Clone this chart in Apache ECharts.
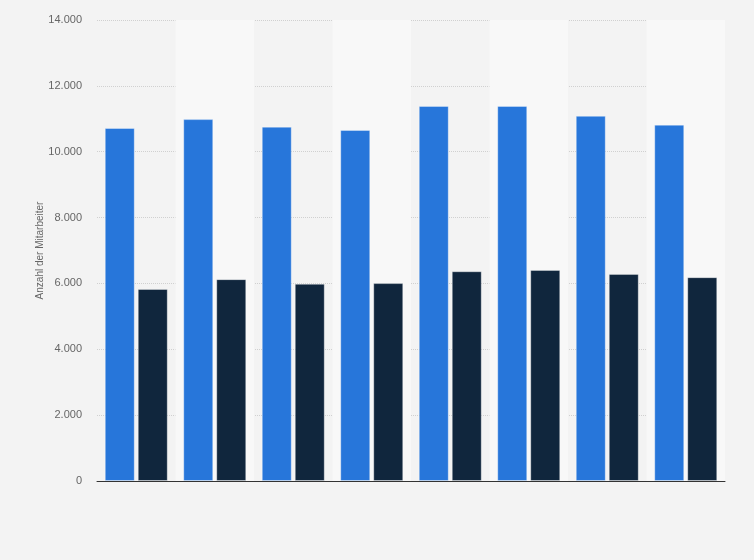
<!DOCTYPE html>
<html>
<head>
<meta charset="utf-8">
<script src="https://cdn.jsdelivr.net/npm/echarts@6/dist/echarts.min.js"></script>
<style>
  html, body { margin: 0; padding: 0; background: #f3f3f3; }
  #chart { width: 754px; height: 560px; }
</style>
</head>
<body>
<div id="chart"></div>
<script>
// Kategorien (keine Beschriftung im Original sichtbar)
let categories = ['1', '2', '3', '4', '5', '6', '7', '8']
// Werte
let seriesBlue = [10720, 10990, 10760, 10660, 11390, 11390, 11090, 10820]
let seriesDark = [5830, 6130, 5990, 6010, 6370, 6410, 6290, 6190]
let yTicks = { min: 0, max: 14000, interval: 2000 }

// Tausenderpunkt wie im Original
function formatDE(v) {
  return String(v).replace(/\B(?=(\d{3})+(?!\d))/g, '.')
}

var myChart = echarts.init(document.getElementById('chart'))
var option = {
  backgroundColor: '#f3f3f3',
  animation: false,
  grid: {
    left: 97,
    right: 29,
    top: 20,
    bottom: 79,
  },
  xAxis: {
    type: 'category',
    data: categories,
    axisLine: { lineStyle: { color: '#333', width: 1 } },
    axisTick: { show: false },
    axisLabel: { show: false },
    //交替背景
    splitArea: {
      show: true,
      areaStyle: { color: ['rgba(0,0,0,0)', '#f8f8f8'] },
    },
  },
  yAxis: {
    type: 'value',
    min: yTicks.min,
    max: yTicks.max,
    interval: yTicks.interval,
    name: 'Anzahl der Mitarbeiter',
    nameLocation: 'middle',
    nameGap: 52,
    nameMoveOverlap: false,
    nameTextStyle: { color: '#666', fontSize: 10, fontFamily: 'Liberation Sans, Arial, sans-serif' },
    axisLine: { show: false },
    axisTick: { show: false },
    axisLabel: {
      color: '#666',
      fontSize: 11,
      margin: 15,
      fontFamily: 'Liberation Sans, Arial, sans-serif',
      formatter: formatDE,
    },
    splitLine: {
      lineStyle: { color: '#d0d0d0', type: [1, 1], width: 1 },
    },
  },
  series: [
    {
      name: 'Serie 1',
      type: 'bar',
      data: seriesBlue,
      barWidth: 30,
      barGap: '10%',
      itemStyle: {
        color: '#2776da',
        borderColor: 'rgba(255,255,255,0.35)',
        borderWidth: 1,
      },
    },
    {
      name: 'Serie 2',
      type: 'bar',
      data: seriesDark,
      barWidth: 30,
      barGap: '10%',
      itemStyle: {
        color: '#10263d',
        borderColor: 'rgba(255,255,255,0.35)',
        borderWidth: 1,
      },
    },
  ],
}
myChart.setOption(option)
</script>
</body>
</html>
